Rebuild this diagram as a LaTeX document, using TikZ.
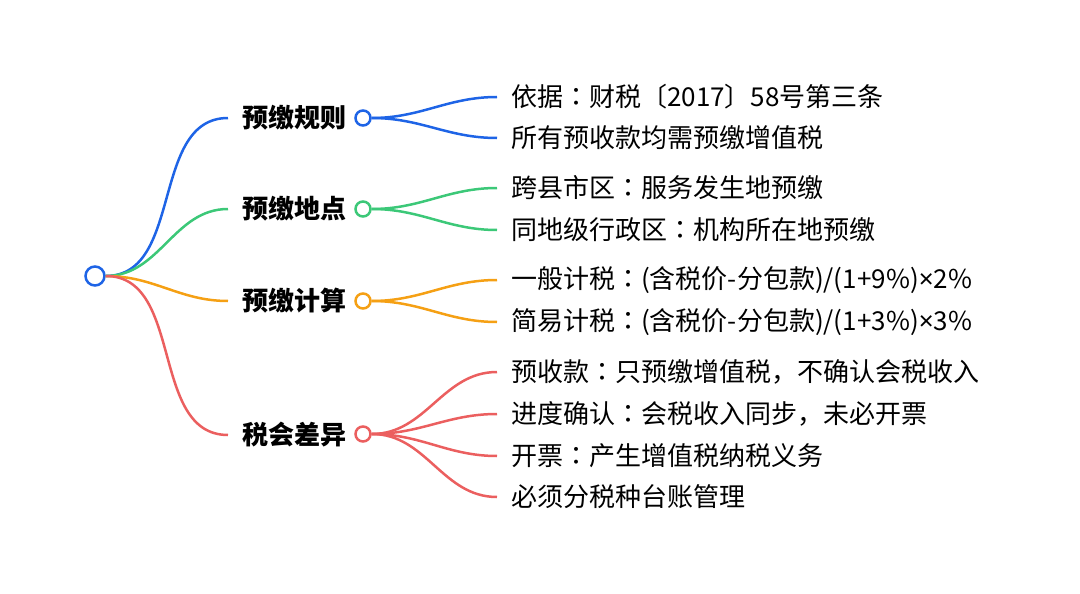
\documentclass[tikz,border=0pt]{standalone}
\usepackage{fontspec}
\usepackage{xcolor}
\usepackage{tikz}
\usetikzlibrary{positioning}
\setmainfont{Noto Sans CJK SC}
\newfontfamily\tcfont{Noto Sans CJK TC}
\newfontfamily\latinfont{Noto Sans}
\newcommand{\colonmark}{{\tcfont ：}}
\newcommand{\timesmark}{{\latinfont ×}}
\definecolor{mapblue}{HTML}{1E64E6}
\definecolor{mapgreen}{HTML}{3CC878}
\definecolor{maporange}{HTML}{F5A014}
\definecolor{mapred}{HTML}{EB5F5F}

\begin{document}
\begin{tikzpicture}[
    x=1pt, y=-1pt,
    rootnode/.style = {circle, draw=mapblue, line width=2.5pt, fill=white, minimum size=19pt, inner sep=0pt},
    topicdot/.style = {circle, line width=2.5pt, fill=white, minimum size=15pt, inner sep=0pt},
    topic/.style = {anchor=west, inner xsep=14pt, inner ysep=0pt, font=\fontsize{26}{30}\selectfont\bfseries},
    leaf/.style = {anchor=west, inner xsep=14pt, inner ysep=0pt, font=\fontsize{26}{30}\selectfont},
    branch/.style = {line width=2.5pt, out=0, in=180}
]
\useasboundingbox (0,0) rectangle (1080,594);

\node [rootnode] (root) at (95, 276) {};

\node [topic] (rules) at (228, 118) {预缴规则};
\node [topic] (place) at (228, 209) {预缴地点};
\node [topic] (calc) at (228, 301) {预缴计算};
\node [topic] (diff) at (228, 435) {税会差异};

\node [topicdot, draw=mapblue] (rulesdot) at (363, 118) {};
\node [topicdot, draw=mapgreen] (placedot) at (363, 209) {};
\node [topicdot, draw=maporange] (calcdot) at (363, 301) {};
\node [topicdot, draw=mapred] (diffdot) at (363, 434) {};

\node [leaf] (rules1) at (497, 97) {依据\colonmark 财税〔2017〕58号第三条};
\node [leaf] (rules2) at (497, 138) {所有预收款均需预缴增值税};
\node [leaf] (place1) at (497, 188) {跨县市区\colonmark 服务发生地预缴};
\node [leaf] (place2) at (497, 230) {同地级行政区\colonmark 机构所在地预缴};
\node [leaf] (calc1) at (497, 280) {一般计税\colonmark (含税价-分包款)/(1+9\%)\timesmark 2\%};
\node [leaf] (calc2) at (497, 322) {简易计税\colonmark (含税价-分包款)/(1+3\%)\timesmark 3\%};
\node [leaf] (diff1) at (497, 372) {预收款\colonmark 只预缴增值税，不确认会税收入};
\node [leaf] (diff2) at (497, 414) {进度确认\colonmark 会税收入同步，未必开票};
\node [leaf] (diff3) at (497, 456) {开票\colonmark 产生增值税纳税义务};
\node [leaf] (diff4) at (497, 497) {必须分税种台账管理};

\draw[branch, mapblue] (root.east) to (rules.west);
\draw[branch, mapgreen] (root.east) to (place.west);
\draw[branch, maporange] (root.east) to (calc.west);
\draw[branch, mapred] (root.east) to (diff.west);

\draw[branch, mapblue] (rulesdot.east) to (rules1.west);
\draw[branch, mapblue] (rulesdot.east) to (rules2.west);
\draw[branch, mapgreen] (placedot.east) to (place1.west);
\draw[branch, mapgreen] (placedot.east) to (place2.west);
\draw[branch, maporange] (calcdot.east) to (calc1.west);
\draw[branch, maporange] (calcdot.east) to (calc2.west);
\draw[branch, mapred] (diffdot.east) to (diff1.west);
\draw[branch, mapred] (diffdot.east) to (diff2.west);
\draw[branch, mapred] (diffdot.east) to (diff3.west);
\draw[branch, mapred] (diffdot.east) to (diff4.west);

\end{tikzpicture}
\end{document}
